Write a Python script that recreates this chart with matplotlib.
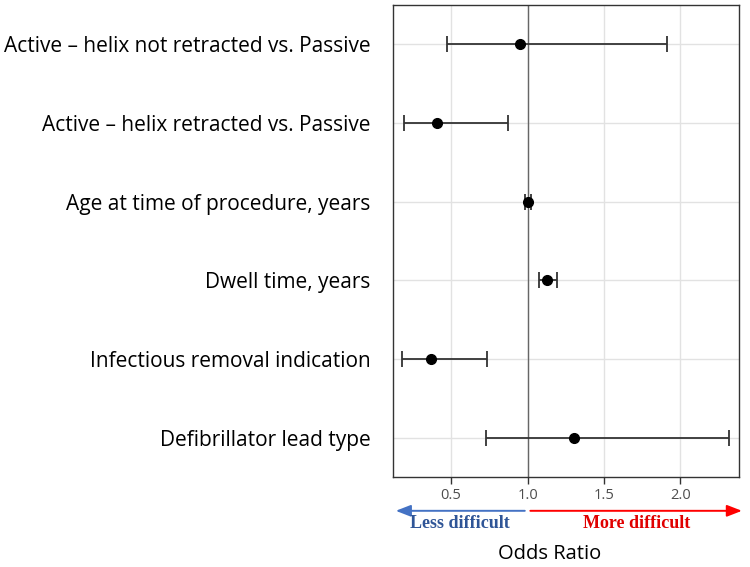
import matplotlib
matplotlib.use("Agg")
import matplotlib.pyplot as plt
import matplotlib.transforms as mtransforms

labels = [
    "Active \u2013 helix not retracted vs. Passive",
    "Active \u2013 helix retracted vs. Passive",
    "Age at time of procedure, years",
    "Dwell time, years",
    "Infectious removal indication",
    "Defibrillator lead type",
]
odds = [0.95, 0.41, 1.00, 1.125, 0.368, 1.305]
lower = [0.474, 0.191, 0.982, 1.074, 0.180, 0.728]
upper = [1.911, 0.874, 1.025, 1.191, 0.736, 2.320]
xticks = [0.5, 1.0, 1.5, 2.0]
xticklabels = ["0.5", "1.0", "1.5", "2.0"]

fig = plt.figure(figsize=(7.5, 5.67), dpi=100)
ax = fig.add_axes([0.524, 0.159, 0.461, 0.832])

n = len(labels)
ypos = list(range(n, 0, -1))
xerr = [[o - l for o, l in zip(odds, lower)], [u - o for o, u in zip(odds, upper)]]

ax.errorbar(odds, ypos, xerr=xerr, fmt="o", color="black", ecolor="#333333",
            elinewidth=1.3, capsize=6, capthick=1.3, markersize=7, zorder=3)
ax.axvline(1.0, color="#666666", lw=1.0, zorder=2)

ax.set_xlim(0.12, 2.381)
ax.set_ylim(0.5, n + 0.5)
ax.set_xticks(xticks)
ax.set_xticklabels(xticklabels, fontsize=10.5, color="#4d4d4d", family="Open Sans")
ax.set_yticks(ypos)
ax.set_yticklabels(labels, fontsize=15, family="Open Sans", color="black")
ax.tick_params(axis="y", length=0, pad=16)
ax.tick_params(axis="x", length=5, width=1, color="#333333", pad=3)
ax.grid(True, color="#e2e2e2", lw=1.0, zorder=0)
ax.set_axisbelow(True)
for s in ax.spines.values():
    s.set_color("#333333")
    s.set_linewidth(1.0)

trans = mtransforms.blended_transform_factory(ax.transData, ax.transAxes)
ax.annotate("", xy=(0.12, -0.072), xytext=(1.0, -0.072), xycoords=trans, textcoords=trans,
            arrowprops=dict(arrowstyle="-|>,head_length=0.9,head_width=0.35", color="#4472C4", lw=1.4),
            annotation_clip=False)
ax.annotate("", xy=(2.42, -0.072), xytext=(1.0, -0.072), xycoords=trans, textcoords=trans,
            arrowprops=dict(arrowstyle="-|>,head_length=0.9,head_width=0.35", color="#FF0000", lw=1.4),
            annotation_clip=False)
ax.text(0.56, -0.098, "Less difficult", transform=trans, ha="center", va="center",
        fontsize=13, fontweight="bold", family="Liberation Serif", color="#2F5597", clip_on=False)
ax.text(1.71, -0.098, "More difficult", transform=trans, ha="center", va="center",
        fontsize=13, fontweight="bold", family="Liberation Serif", color="#E00000", clip_on=False)

fig.text(550 / 750, 1 - 554 / 567, "Odds Ratio", ha="center", va="center",
         fontsize=14.5, family="Open Sans", color="black")

fig.savefig("out.png", dpi=100)
